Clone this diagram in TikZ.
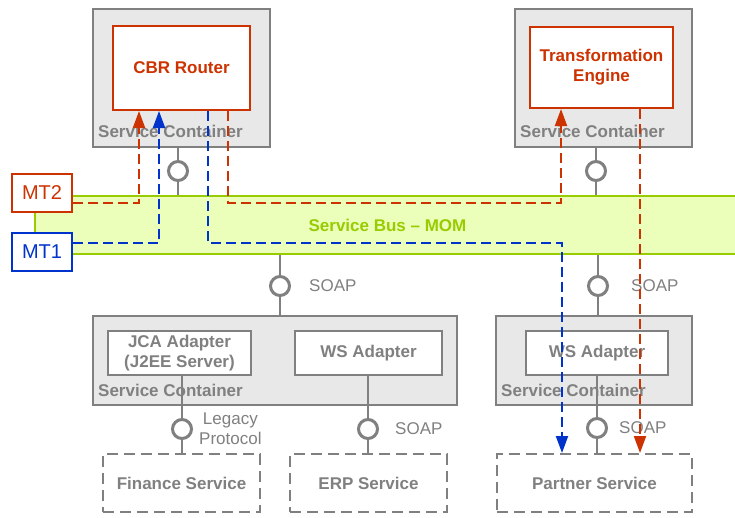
\documentclass[tikz,border=0pt]{standalone}
\usepackage{fontspec}
\setmainfont{Liberation Sans}
\usepackage{tikz}
\usetikzlibrary{arrows.meta,positioning,calc}
\definecolor{msgred}{RGB}{204,51,0}
\definecolor{msgblue}{RGB}{0,51,204}
\definecolor{boxgray}{RGB}{128,128,128}
\definecolor{boxfill}{RGB}{232,232,232}
\definecolor{busgreen}{RGB}{153,204,0}
\definecolor{busfill}{RGB}{235,255,187}
\newcommand{\dfont}{\fontsize{17}{20}\selectfont}
\tikzset{
  container/.style={draw=boxgray,fill=boxfill,line width=2pt,inner sep=0pt},
  engine/.style={draw=msgred,fill=white,line width=2pt,inner sep=0pt,
    align=center,text=msgred,font=\dfont\bfseries},
  adapter/.style={draw=boxgray,fill=white,line width=2pt,inner sep=0pt,
    minimum height=44pt,align=center,text=boxgray,font=\dfont\bfseries},
  extservice/.style={draw=boxgray,line width=2pt,dash pattern=on 11pt off 6pt,
    inner sep=0pt,minimum height=58pt,text=boxgray,font=\dfont\bfseries},
  clabel/.style={anchor=base west,inner sep=0pt,text=boxgray,font=\dfont\bfseries},
  bus/.style={draw=busgreen,fill=busfill,line width=2pt,inner sep=0pt,
    text=busgreen,font=\dfont\bfseries},
  msgtype/.style={draw=#1,fill=white,line width=2pt,inner sep=0pt,
    minimum width=60pt,minimum height=38pt,text=#1,font=\fontsize{20}{24}\selectfont},
  plug/.style={circle,draw=boxgray,fill=white,line width=3pt,inner sep=0pt,minimum size=19pt},
  link/.style={draw=boxgray,line width=2.5pt},
  tag/.style={inner sep=0pt,text=boxgray,align=center,font=\dfont},
  flow/.style={line width=2pt,dash pattern=on 10pt off 5pt,
    -{Triangle[length=17pt,width=12pt]}},
  redflow/.style={flow,draw=msgred},
  blueflow/.style={flow,draw=msgblue}
}

\begin{document}
\begin{tikzpicture}[x=1pt,y=-1pt]
\useasboundingbox (0,0) rectangle (735,517);

% service bus (open to the right)
\begin{scope}
  \clip (0,0) rectangle (735,517);
  \node[bus, minimum width=705pt, minimum height=58pt] (bus) at (387.5,225) {Service Bus -- MOM};
\end{scope}

% upper containers
\node[container, minimum width=177pt, minimum height=138pt] (cbrbox) at (181.5,78) {};
\node[engine, minimum width=137pt, minimum height=84pt] (cbr) at (181.5,68) {CBR Router};
\node[clabel] at ($(cbrbox.south west)+(6,-11)$) {Service Container};

\node[container, minimum width=177pt, minimum height=138pt] (tebox) at (603.5,78) {};
\node[engine, minimum width=143pt, minimum height=81pt] (te) at (601.5,67.5) {Transformation\\Engine};
\node[clabel] at ($(tebox.south west)+(6,-11)$) {Service Container};

% lower containers
\node[container, minimum width=364pt, minimum height=89pt] (lowbox) at (275,360.5) {};
\node[adapter, minimum width=143pt] (jca) at (179.5,353) {JCA Adapter\\(J2EE Server)};
\node[adapter, minimum width=147pt] (ws) at (368.5,353) {WS Adapter};
\node[clabel] at ($(lowbox.south west)+(6,-10)$) {Service Container};

\node[container, minimum width=196pt, minimum height=89pt] (partbox) at (594,360.5) {};
\node[adapter, minimum width=142pt] (pws) at (597,353) {WS Adapter};
\node[clabel] at ($(partbox.south west)+(6,-10)$) {Service Container};

% external services
\node[extservice, minimum width=157pt] (fin) at (181.5,483) {Finance Service};
\node[extservice, minimum width=157pt] (erp) at (368.5,483) {ERP Service};
\node[extservice, minimum width=195pt] (partner) at (594.5,483) {Partner Service};

% endpoints
\node[plug] (plugA) at (178,171) {};
\node[plug] (plugB) at (596,171) {};
\node[plug] (plugC) at (280,286) {};
\node[plug] (plugD) at (598,286) {};
\node[plug] (plugE) at (182,429) {};
\node[plug] (plugF) at (368,429) {};
\node[plug] (plugG) at (597,428) {};

\draw[link] (plugA.north |- cbrbox.south) -- (plugA.north);
\draw[link] (plugA.south) -- (plugA.south |- bus.north);
\draw[link] (plugB.north |- tebox.south) -- (plugB.north);
\draw[link] (plugB.south) -- (plugB.south |- bus.north);
\draw[link] (plugC.north |- bus.south) -- (plugC.north);
\draw[link] (plugC.south) -- (plugC.south |- lowbox.north);
\draw[link] (plugD.north |- bus.south) -- (plugD.north);
\draw[link] (plugD.south) -- (plugD.south |- partbox.north);
\draw[link] (plugE.north |- jca.south) -- (plugE.north);
\draw[link] (plugE.south) -- (plugE.south |- fin.north);
\draw[link] (plugF.north |- ws.south) -- (plugF.north);
\draw[link] (plugF.south) -- (plugF.south |- erp.north);
\draw[link] (plugG.north |- pws.south) -- (plugG.north);
\draw[link] (plugG.south) -- (plugG.south |- partner.north);

\node[tag, right=18pt of plugC] (soapC) {SOAP};
\node[tag, right=22pt of plugD] (soapD) {SOAP};
\node[tag, right=6pt of plugE] (legacy) {Legacy\\Protocol};
\node[tag, right=16pt of plugF] (soapF) {SOAP};
\node[tag, right=11pt of plugG] (soapG) {SOAP};

% message types
\node[msgtype=msgred] (mt2) at (42,193) {MT2};
\node[msgtype=msgblue] (mt1) at (42,251.5) {MT1};

% message flows
\coordinate (highlane) at (0,203);
\coordinate (lowlane) at (0,243);
\coordinate (cbrin2) at ($(cbr.south west)+(27,0)$);
\coordinate (cbrin1) at ($(cbr.south west)+(47,0)$);
\coordinate (cbrout1) at ($(cbr.south west)+(96,0)$);
\coordinate (cbrout2) at ($(cbr.south west)+(116,0)$);
\coordinate (tein) at ($(te.south west)+(32,0)$);
\coordinate (teout) at ($(te.south west)+(111,0)$);
\coordinate (pin1) at ($(partner.north west)+(66,0)$);

\draw[redflow] (mt2.east |- highlane) -| (cbrin2);
\draw[blueflow] (mt1.east |- lowlane) -| (cbrin1);
\draw[blueflow] (cbrout1) |- (lowlane -| pin1) -- (pin1);
\draw[redflow] (cbrout2) |- (highlane -| tein) -- (tein);
\draw[redflow] (teout) -- (teout |- partner.north);
\end{tikzpicture}
\end{document}
